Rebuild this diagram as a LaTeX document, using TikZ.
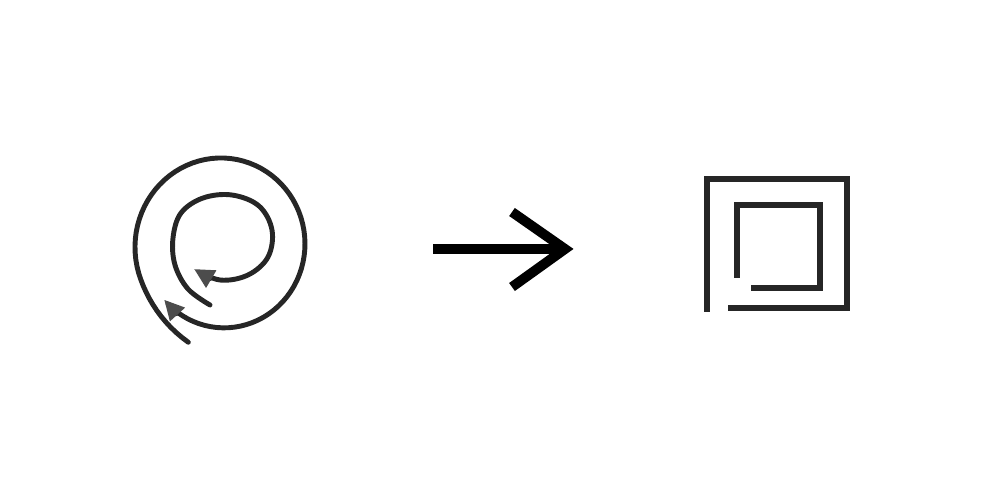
\documentclass[tikz,border=0pt]{standalone}
\usetikzlibrary{arrows.meta,calc}

\begin{document}
\begin{tikzpicture}[x=0.01cm,y=-0.01cm,
	declare function={spirad(\t)=87.5-0.028*(\t-180)+10.5*(max(0,160-\t)/50)^2;}]
	\tikzstyle{pencil}=[black!85,line width=1.4pt,line cap=round,line join=round]
	\tikzstyle{loop}=[pencil,-{Triangle[length=2mm,width=1.9mm,color=black!70]}]
	\tikzstyle{bigarrow}=[black,line width=2.8pt,line join=miter]
	\tikzstyle{frame}=[black!85,line width=1.8pt,line join=miter]

	\useasboundingbox (0,0) rectangle (1000,500);

	% spiral, outer turn
	\draw[loop] plot[domain=110:498,samples=90]
		({222.5+spirad(\x)*cos(\x)},{245.5+1.03*spirad(\x)*sin(\x)});
	% spiral, inner turn
	\draw[loop,smooth,tension=0.6] plot coordinates {(210,305) (188,289) (175,265) (173,238) (181,213)
		(203,198) (232,195) (259,206) (272,230) (268,257) (248,275) (220,280)
		(194,269)};

	% arrow in the middle
	\coordinate (from) at (433,249);
	\coordinate (to) at (565,249);
	\draw[bigarrow] (from) -- (to);
	\draw[bigarrow] ($(to)+(-53,-37)$) -- (to) -- ($(to)+(-53,38)$);

	% double square
	\draw[frame] (728,308) -- (847,308) -- (847,179) -- (707,179) -- (707,312);
	\draw[frame] (751,288) -- (820,288) -- (820,205) -- (737,205) -- (737,278);
\end{tikzpicture}
\end{document}
